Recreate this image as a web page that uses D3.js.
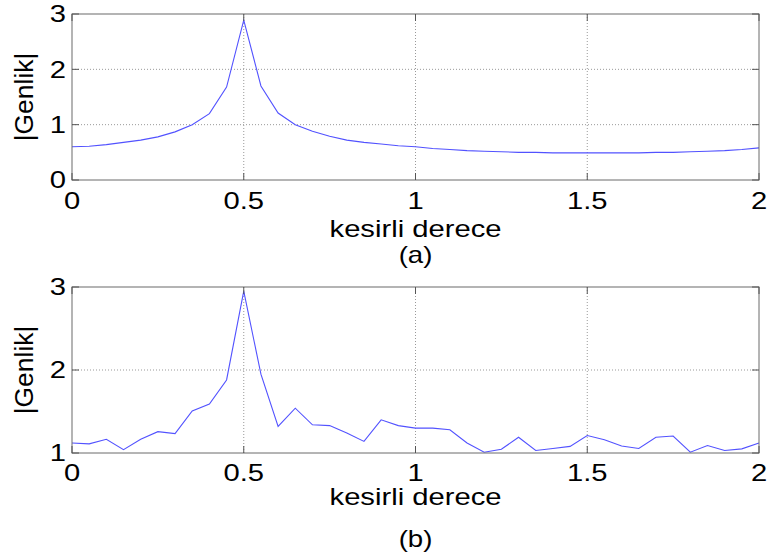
<!DOCTYPE html>
<html>
<head>
<meta charset="utf-8">
<script src="https://cdn.jsdelivr.net/npm/d3@7"></script>
<style>
  html, body { margin: 0; padding: 0; background: #ffffff; }
  svg { display: block; }
  text { font-family: "Liberation Sans", Arial, Helvetica, sans-serif; fill: #000; }
</style>
</head>
<body>
<svg id="chart" width="768" height="558"></svg>
<script>
// ---- data ----
const xValues = [0,0.05,0.1,0.15,0.2,0.25,0.3,0.35,0.4,0.45,0.5,0.55,0.6,0.65,0.7,0.75,0.8,0.85,0.9,0.95,1,
                 1.05,1.1,1.15,1.2,1.25,1.3,1.35,1.4,1.45,1.5,1.55,1.6,1.65,1.7,1.75,1.8,1.85,1.9,1.95,2];
const seriesA = [0.60,0.61,0.64,0.68,0.72,0.78,0.87,1.00,1.20,1.68,2.89,1.70,1.21,1.00,0.88,0.79,0.72,0.68,0.65,0.62,0.60,
                 0.57,0.55,0.53,0.52,0.51,0.50,0.50,0.49,0.49,0.49,0.49,0.49,0.49,0.50,0.50,0.51,0.52,0.53,0.55,0.58];
const seriesB = [1.12,1.11,1.165,1.04,1.165,1.257,1.233,1.506,1.59,1.88,2.95,1.95,1.32,1.54,1.34,1.33,1.24,1.14,1.40,1.33,1.30,
                 1.30,1.28,1.12,1.01,1.045,1.19,1.03,1.055,1.08,1.21,1.16,1.085,1.055,1.19,1.205,1.01,1.09,1.03,1.05,1.12];
const xTicks = [0, 0.5, 1, 1.5, 2];
const xTickLabels = ["0", "0.5", "1", "1.5", "2"];
const yTicksA = [0, 1, 2, 3];
const yTicksB = [1, 2, 3];
const xLabel = "kesirli derece";
const yLabel = "|Genlik|";
const captions = ["(a)", "(b)"];

// ---- layout ----
const svg = d3.select("#chart");
const SX = 1.27;     // horizontal stretch of the text
const FS = 23;

const panels = [
  { data: seriesA, yDomain: [0, 3], yTicks: yTicksA, top: 14, bottom: 180,
    tickBase: 209, labelBase: 237, capBase: 263, caption: captions[0] },
  { data: seriesB, yDomain: [1, 3], yTicks: yTicksB, top: 287, bottom: 453,
    tickBase: 481, labelBase: 505, capBase: 547, caption: captions[1] }
];

const left = 72, right = 759;
const x = d3.scaleLinear().domain([0, 2]).range([left, right]);

panels.forEach(p => {
  const y = d3.scaleLinear().domain(p.yDomain).range([p.bottom, p.top]);
  const g = svg.append("g");

  // grid (dotted)
  g.selectAll("line.gx").data(xTicks.filter(t => t > 0 && t < 2)).enter().append("line")
    .attr("x1", d => x(d)).attr("x2", d => x(d))
    .attr("y1", p.top).attr("y2", p.bottom)
    .attr("stroke", "#999").attr("stroke-width", 1).attr("stroke-dasharray", "1,2");
  g.selectAll("line.gy").data(p.yTicks.filter(t => t > p.yDomain[0] && t < p.yDomain[1])).enter().append("line")
    .attr("x1", left).attr("x2", right)
    .attr("y1", d => y(d)).attr("y2", d => y(d))
    .attr("stroke", "#999").attr("stroke-width", 1).attr("stroke-dasharray", "1,2");

  // data line
  const line = d3.line().x((d, i) => x(xValues[i])).y(d => y(d));
  g.append("path").datum(p.data)
    .attr("d", line)
    .attr("fill", "none")
    .attr("stroke", "#5252ff")
    .attr("stroke-width", 1.1);

  // box
  g.append("rect")
    .attr("x", left).attr("y", p.top)
    .attr("width", right - left).attr("height", p.bottom - p.top)
    .attr("fill", "none").attr("stroke", "#6a6a6a").attr("stroke-width", 1);

  // inward ticks
  const tl = 7;
  xTicks.forEach(t => {
    g.append("line").attr("x1", x(t)).attr("x2", x(t)).attr("y1", p.bottom).attr("y2", p.bottom - tl)
      .attr("stroke", "#555");
    g.append("line").attr("x1", x(t)).attr("x2", x(t)).attr("y1", p.top).attr("y2", p.top + tl)
      .attr("stroke", "#555");
  });
  p.yTicks.forEach(t => {
    g.append("line").attr("x1", left).attr("x2", left + tl).attr("y1", y(t)).attr("y2", y(t))
      .attr("stroke", "#555");
    g.append("line").attr("x1", right).attr("x2", right - tl).attr("y1", y(t)).attr("y2", y(t))
      .attr("stroke", "#555");
  });

  // x tick labels
  xTicks.forEach((t, i) => {
    g.append("text")
      .attr("transform", `translate(${x(t)},${p.tickBase}) scale(${SX},1)`)
      .attr("text-anchor", "middle")
      .style("font-size", FS + "px")
      .text(xTickLabels[i]);
  });
  // y tick labels
  p.yTicks.forEach(t => {
    g.append("text")
      .attr("transform", `translate(${left - 6},${y(t) + 8.2}) scale(${SX},1)`)
      .attr("text-anchor", "end")
      .style("font-size", FS + "px")
      .text(String(t));
  });

  // x label
  g.append("text")
    .attr("transform", `translate(${(left + right) / 2},${p.labelBase}) scale(${SX},1)`)
    .attr("text-anchor", "middle")
    .style("font-size", FS + "px")
    .text(xLabel);

  // y label
  g.append("text")
    .attr("transform", `translate(33,${(p.top + p.bottom) / 2}) rotate(-90) scale(1.15,1.1)`)
    .attr("text-anchor", "middle")
    .style("font-size", FS + "px")
    .text(yLabel);

  // caption
  g.append("text")
    .attr("transform", `translate(${(left + right) / 2},${p.capBase}) scale(1.2,1)`)
    .attr("text-anchor", "middle")
    .style("font-size", FS + "px")
    .text(p.caption);
});
</script>
</body>
</html>
